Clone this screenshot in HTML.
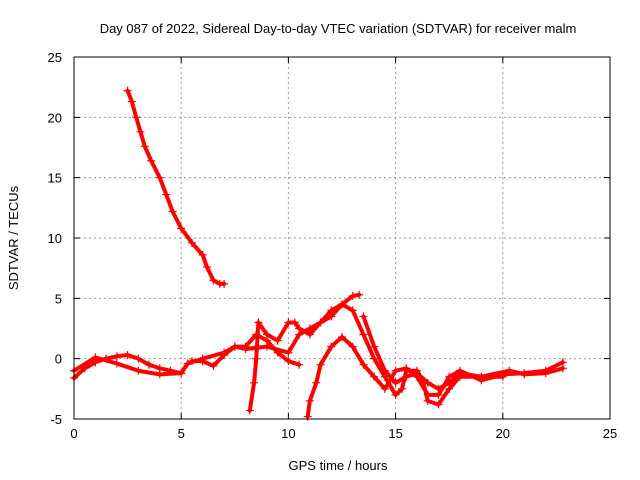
<!DOCTYPE html>
<html><head><meta charset="utf-8"><style>
body{margin:0;background:#fff}
svg{display:block;font-family:"Liberation Sans",sans-serif;font-size:13px}
</style></head><body>
<svg id="c" width="640" height="480">
<text x="338" y="33" text-anchor="middle">Day 087 of 2022, Sidereal Day-to-day VTEC variation (SDTVAR) for receiver malm</text>
<text x="338" y="470" text-anchor="middle">GPS time / hours</text>
<text transform="translate(18,238) rotate(-90)" text-anchor="middle">SDTVAR / TECUs</text>
<g id="grid"></g><g id="marks"></g>
<rect x="74" y="57" width="536" height="362" fill="none" stroke="#000"/>
</svg>
<script>
const xTicks=[0,5,10,15,20,25];
const yTicks=[-5,0,5,10,15,20,25];
const track1=[[2.5,22.2],[2.7,21.3],[2.9,20],[3.1,18.8],[3.3,17.6],[3.6,16.4],[4,15],[4.3,13.6],[4.6,12.2],[5,10.8],[5.5,9.6],[6,8.6],[6.2,7.6],[6.5,6.5],[6.8,6.2],[7.0,6.2]];
const track2=[[0,-1.6],[0.5,-0.8],[1,-0.3],[1.5,0],[2,0.2],[2.5,0.3],[3,0],[3.5,-0.5],[4,-0.8],[4.5,-1],[5,-1.2]];
const track3=[[0,-1],[1,0.1],[2,-0.4],[3,-1],[4,-1.3],[5,-1.2],[5.3,-0.4],[6,0],[7,0.5],[7.5,1],[8,0.8],[9,1],[10,0.5],[10.5,2],[11,2.5],[12,3.5],[12.5,4.5],[13,5.2],[13.3,5.3]];
const track4=[[5.5,-0.2],[6,-0.2],[6.5,-0.6],[7,0.3],[7.5,1],[8,1],[8.5,2],[9,1.5],[9.5,0.5],[10,-0.2],[10.5,-0.5]];
const track5=[[8.2,-4.3],[8.4,-2],[8.5,0],[8.6,3],[9,2],[9.5,1.5],[10,3],[10.3,3],[10.5,2.5],[11,2],[11.5,3],[12,4],[12.5,4.5],[13,4],[13.5,2],[14,0],[14.5,-1.5],[15,-3],[15.3,-2.5],[15.5,-1],[16,-1],[16.3,-2],[16.5,-3.5],[17,-3.8],[17.5,-2.5],[18,-1.5],[19,-1.5],[20,-1.5]];
const track6=[[10.9,-4.8],[11,-3.5],[11.3,-2],[11.5,-0.5],[12,1],[12.5,1.8],[13,1],[13.5,-0.5],[14,-1.5],[14.5,-2.5],[15,-1],[15.5,-0.8],[16,-1.5],[16.5,-3],[17,-3],[17.5,-1.5],[18,-1],[19,-1.8],[20,-1.3],[21,-1.2],[22,-1],[22.8,-0.3]];
const track7=[[13.5,3.5],[14,1],[14.5,-1],[15,-2],[15.5,-1.5],[16,-1.2],[16.5,-2],[17,-2.5],[17.5,-2],[18,-1.2],[19,-1.5],[20.3,-1],[21,-1.3],[22,-1.2],[22.8,-0.8]];
const tracks=[track1,track2,track3,track4,track5,track6,track7];
const NS="http://www.w3.org/2000/svg";
const X=v=>74+v*536/25, Y=v=>419-(v+5)*362/30;
const grid=document.getElementById('grid'), marks=document.getElementById('marks');
function mk(tag,at,parent){const e=document.createElementNS(NS,tag);for(const k in at)e.setAttribute(k,at[k]);parent.appendChild(e);return e;}
xTicks.forEach(t=>{
 if(t>0&&t<25){const l=mk('line',{x1:X(t),x2:X(t),y1:57,y2:419,stroke:'#999','stroke-dasharray':'2,3'},grid);
 
 }
 const tk=mk('path',{d:`M${X(t)},419v-6M${X(t)},57v6`,stroke:'#000'},grid);
 
 
 const s=mk('text',{x:X(t),y:438,'text-anchor':'middle'},grid);s.textContent=t;
 
 
});
yTicks.forEach(t=>{
 if(t>-5&&t<25){const l=mk('line',{x1:74,x2:610,y1:Y(t),y2:Y(t),stroke:'#999','stroke-dasharray':'2,3'},grid);
 
 }
 const tk=mk('path',{d:`M74,${Y(t)}h6M610,${Y(t)}h-6`,stroke:'#000'},grid);
 
 
 const s=mk('text',{x:62,y:Y(t)+5,'text-anchor':'end'},grid);s.textContent=t;
 
 
});
tracks.forEach(tr=>{
 const p=mk('polyline',{points:tr.map(d=>X(d[0])+','+Y(d[1])).join(' '),fill:'none',stroke:'#f00','stroke-width':4,'stroke-linejoin':'round','stroke-linecap':'round'},marks);
 
 
 tr.forEach(d=>{
  const m=mk('path',{d:`M${X(d[0])-4},${Y(d[1])}h8M${X(d[0])},${Y(d[1])-4}v8`,stroke:'#f00','stroke-width':1.2},marks);
  
  
 });
});
</script>
</body></html>
